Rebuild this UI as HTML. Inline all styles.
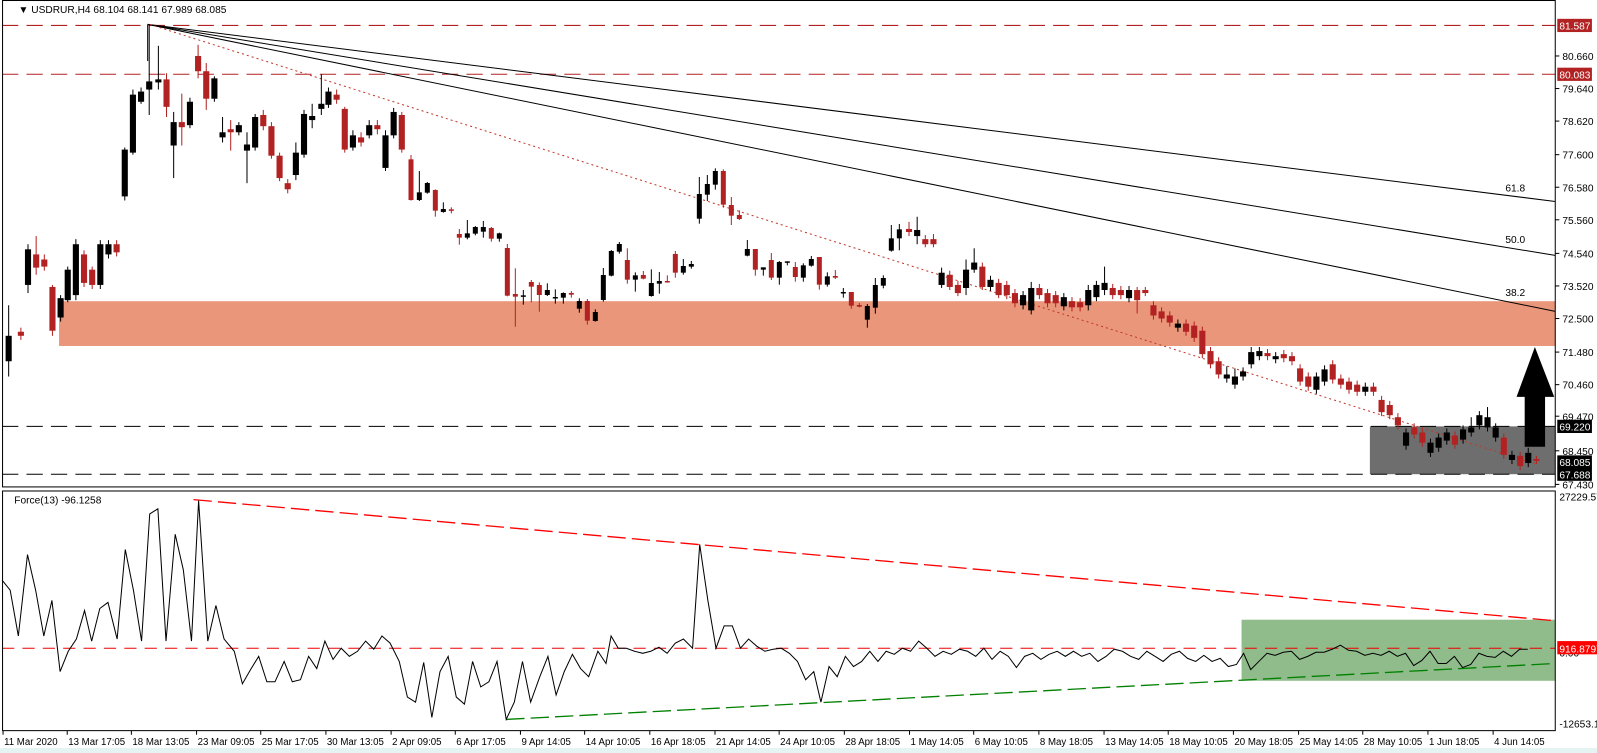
<!DOCTYPE html>
<html><head><meta charset="utf-8"><style>
html,body{margin:0;padding:0;background:#fff;width:1597px;height:753px;overflow:hidden}
svg{display:block}
text{font-family:"Liberation Sans",sans-serif;font-size:10px;fill:#000}
</style></head><body>
<svg id="s" width="1597" height="753" xmlns="http://www.w3.org/2000/svg">
<rect x="0" y="0" width="1597" height="753" fill="#fff"/>
<rect x="0" y="748" width="1597" height="5" fill="#e6f3f3"/>
<g id="p" transform="scale(1.0185,1.0176)">
  <rect x="58" y="296" width="1469" height="44" fill="#e9967a"/>
  <rect x="1345" y="419" width="182" height="47" fill="#6e6e6e"/>
  <rect x="1219" y="609" width="308" height="60" fill="#8fbc8a"/>
  <line x1="2" y1="25" x2="1527" y2="25" stroke="#b22222" stroke-dasharray="16,8"/>
  <line x1="2" y1="73" x2="1527" y2="73" stroke="#b22222" stroke-dasharray="16,8"/>
  <line x1="2" y1="419" x2="1527" y2="419" stroke="#000" stroke-dasharray="16,8"/>
  <line x1="2" y1="466" x2="1527" y2="466" stroke="#000" stroke-dasharray="16,8"/>
  <line x1="145" y1="24" x2="1527" y2="198" stroke="#000"/>
  <line x1="145" y1="24" x2="1527" y2="251" stroke="#000"/>
  <line x1="145" y1="24" x2="1527" y2="306" stroke="#000"/>
  <line x1="145" y1="24" x2="145" y2="60" stroke="#000"/>
  <text x="1478" y="188">61.8</text>
  <text x="1478" y="239">50.0</text>
  <text x="1478" y="291">38.2</text>
  <line x1="147" y1="24" x2="1508" y2="456" stroke="#c0392b" stroke-dasharray="2,3"/>
  <polygon points="1507,341 1489,390 1497,390 1497,439 1517,439 1517,390 1526,390" fill="#000"/>
  <line x1="2" y1="637" x2="1527" y2="637" stroke="#e00" stroke-dasharray="12,8"/>
  <line x1="190" y1="491" x2="1527" y2="610" stroke="#f00" stroke-width="1.3" stroke-dasharray="18,6"/>
  <line x1="497" y1="707" x2="1527" y2="652" stroke="#008000" stroke-width="1.3" stroke-dasharray="18,6"/>
  <polyline id="force" fill="none" stroke="#000" stroke-width="1"/>
  <g id="candP"></g>
  <rect x="2.5" y="0.5" width="1524.5" height="478" fill="none" stroke="#000"/>
  <rect x="2.5" y="482.5" width="1524.5" height="235.5" fill="none" stroke="#000"/>
  <text x="18" y="13">▼  USDRUR,H4  68.104 68.141 67.989 68.085</text>
  <text x="14" y="495">Force(13) -96.1258</text>
  <g id="ax"></g>
  <g id="dates"></g>
</g>
<g id="candT"></g>
</svg>
<script>
var NS="http://www.w3.org/2000/svg";
function el(p,t,a,txt){var e=document.createElementNS(NS,t);for(var k in a)e.setAttribute(k,a[k]);if(txt!==undefined)e.textContent=txt;p.appendChild(e);return e;}
var red="#b22222";
var cp=[[8,330,355,'b',300,370],[20,326,330,'r',322,334],[27,245,280,'b',240,288],[35,250,263,'r',232,270],[43,255,262,'r',250,266],[51,282,325,'r',280,330],[59,293,312,'b',290,316],[66,265,295,'b',262,297],[74,240,290,'b',235,295],[82,250,278,'r',246,282],[90,265,280,'r',262,284],[98,240,280,'b',236,284],[106,240,250,'b',236,254],[114,240,248,'r',236,252],
[122,147,193,'b',145,197],[130,93,150,'b',88,152],[138,90,100,'b',86,102],[146,80,88,'b',24,113],[155,78,81,'b',45,88],[163,78,105,'r',72,115],[170,120,143,'b',110,175],[178,120,125,'r',92,143],[186,100,123,'b',96,126],[194,55,70,'r',44,77],[202,70,97,'r',62,108],[210,77,97,'b',75,100],[218,130,135,'b',115,140],[226,127,130,'r',118,148],[234,123,130,'b',120,133],[242,142,148,'b',130,180],[250,115,145,'b',112,148],[258,113,124,'r',108,128],[266,124,153,'r',120,156],[274,153,175,'r',150,178],[282,180,186,'r',176,190],[290,150,172,'b',140,177],[298,112,152,'b',108,155],[306,114,118,'b',102,126],[315,102,107,'b',73,113],[322,90,103,'b',86,106],[330,93,98,'r',88,102],[338,107,147,'r',105,150],[346,133,145,'b',128,148],[354,135,140,'r',130,144],[362,123,133,'b',118,136],[370,123,127,'r',118,132],[378,133,165,'b',128,168],[386,110,133,'b',106,136],[394,113,147,'r',110,150],
[892,225,228,'r',218,232],[900,226,232,'b',213,240],[908,235,240,'r',231,243],[916,235,240,'r',230,243],[924,268,280,'b',263,283],[932,270,282,'r',266,285],[940,280,288,'r',276,291],[948,265,283,'b',255,290],[956,258,265,'b',244,268],[964,262,282,'r',258,285],[972,275,282,'b',271,286],[980,278,290,'r',274,293],[988,280,290,'r',276,294],[996,288,298,'r',284,302],[1004,290,300,'b',286,304],[1012,283,305,'b',277,309],[1020,283,290,'r',279,294],[1028,288,298,'r',284,302],[1036,290,298,'r',286,302],[1044,292,301,'b',288,305],[1052,296,302,'r',292,306],[1060,297,302,'r',293,306],[1068,285,300,'b',280,305],[1076,280,292,'b',276,296],[1084,278,285,'b',262,290],[1092,283,290,'r',279,294],[1100,285,290,'r',281,294],[1108,285,293,'b',281,297],[1116,285,295,'r',282,308],[1124,285,288,'r',282,291],[1132,300,310,'r',296,314],[1140,306,313,'r',302,317],[1148,310,317,'r',306,321],[1156,318,322,'b',314,326],[1164,318,326,'r',314,330],[1172,320,332,'r',316,336],[1180,325,348,'r',321,352],[1188,345,358,'r',341,362],[1196,355,368,'r',351,372],[1204,368,372,'b',360,376],[1212,370,378,'b',362,382],[1220,365,370,'b',361,374],[1228,346,358,'b',341,362],[1236,345,350,'b',341,354],[1244,347,350,'r',343,354],[1252,350,353,'b',346,357],[1260,348,352,'r',344,356],[1268,350,355,'r',346,359],[1276,362,375,'r',358,379],[1284,370,380,'r',366,384],[1292,370,383,'b',366,387],[1300,363,375,'b',359,379],[1308,358,373,'r',354,377],[1316,372,378,'r',368,382],[1324,375,383,'r',371,387],[1332,378,385,'r',374,389],[1340,380,385,'b',376,389],[1348,380,385,'r',376,389],[1356,393,405,'r',389,409],[1364,398,408,'r',394,412],[1372,410,418,'r',406,422],[1380,425,438,'b',421,442],[1388,420,427,'r',416,431],[1396,425,435,'r',421,439],[1404,435,445,'b',431,449],[1412,430,440,'b',426,444],[1420,425,433,'b',421,437],[1428,428,437,'r',424,441],[1436,422,432,'b',418,436],[1444,420,425,'b',410,429],[1452,408,418,'b',404,422],[1460,410,420,'b',400,424],[1468,420,430,'b',416,434],[1476,430,447,'r',426,451],[1484,447,452,'b',443,456],[1492,448,458,'r',444,462],[1500,445,455,'b',440,459],[1508,451,453,'r',448,456]];
var g=document.getElementById('candP');
cp.forEach(function(c){var col=c[3]=='b'?'#000':red;
el(g,'line',{x1:c[0]+.5,x2:c[0]+.5,y1:c[4],y2:c[5],stroke:col,'stroke-width':1});
el(g,'rect',{x:c[0]-2.5,y:c[1],width:6,height:Math.max(1.5,c[2]-c[1]),fill:col});});
var ct=[[33,28,150,'r',15,152],[58,127,150,'b',63,153],[82,99,128,'b',96,131],[106,120,182,'r',118,200],[130,177,186,'b',157,188],[154,178,182,'r',172,190],[178,252,263,'r',237,284],[202,250,263,'b',210,268],[226,231,251,'b',228,256],[250,231,245,'b',213,263],[274,234,266,'r',231,275],[298,250,266,'b',248,275],[322,294,437,'r',282,439],[346,432,440,'r',355,530],[370,436,440,'b',420,464],[394,396,410,'r',390,457],[418,405,435,'r',397,485],[442,420,435,'b',400,438],[466,441,445,'b',418,461],[490,429,443,'b',427,461],[514,429,434,'r',423,443],[538,453,476,'b',445,488],[562,453,512,'r',447,524],[586,486,513,'b',478,515],[610,375,450,'b',354,455],[634,303,377,'b',300,379],[658,282,305,'b',276,311],[682,330,389,'r',295,401],[706,376,389,'b',367,425],[730,375,386,'r',363,388],[754,399,438,'b',358,440],[778,393,401,'b',366,431],[802,393,396,'r',376,398],[826,312,368,'r',303,383],[850,348,368,'b',327,374],[874,342,350,'b',333,356],[898,132,206,'b',81,221],[922,102,134,'b',75,153],[946,63,104,'b',55,119],[970,63,164,'r',58,173],[994,165,197,'r',141,225],[1018,195,207,'r',181,210],[1042,297,317,'b',270,319],[1066,297,359,'r',297,377],[1090,352,359,'b',352,377],[1114,330,383,'r',309,390],[1138,336,383,'b',333,404],[1162,334,338,'b',334,346],[1186,351,381,'r',336,395],[1210,346,383,'b',340,395],[1234,327,347,'b',318,350],[1258,321,404,'r',321,419],[1282,379,404,'b',367,410],[1306,378,383,'r',360,387],[1330,426,430,'b',414,443],[1354,426,467,'r',426,476],[1378,465,470,'r',459,472],[1402,468,509,'b',462,533],[1426,405,473,'b',384,491],[1450,384,407,'b',376,415],[1474,265,302,'b',225,305],[1498,238,265,'b',222,301]];
var g2=document.getElementById('candT');
ct.forEach(function(c){var col=c[3]=='b'?'#000':red;var x=400+c[0]/3,y1=150+c[1]/3,y2=150+c[2]/3;
el(g2,'line',{x1:x,x2:x,y1:150+c[4]/3,y2:150+c[5]/3,stroke:col,'stroke-width':1});
el(g2,'rect',{x:x-2.5,y:y1,width:5,height:Math.max(1.5,y2-y1),fill:col});});
var fp="2,570 10,580 18,625 27,545 35,580 43,625 51,590 59,660 67,640 75,628 83,600 90,630 98,598 106,592 115,628 123,540 131,580 139,630 147,505 155,500 163,630 172,525 180,560 188,630 195,492 204,630 212,595 220,628 230,640 238,672 246,658 254,645 262,670 270,670 279,650 287,670 295,668 303,645 311,657 319,630 327,648 335,637 343,645 351,640 359,630 367,638 375,625 383,632 392,650 400,685 408,690 416,651 424,705 432,660 440,645 448,685 456,692 464,650 472,675 480,670 488,650 497,707 505,690 513,650 521,690 530,665 538,645 546,683 554,660 562,643 570,657 578,665 587,640 595,652 600,625 607,637 615,637 623,640 631,642 639,640 647,636 655,642 663,632 671,628 680,637 687,535 695,590 703,637 711,615 719,615 727,637 735,628 743,635 751,640 759,638 767,637 775,642 783,650 791,668 799,660 806,690 814,655 822,665 830,645 838,655 846,650 854,640 862,650 870,640 878,643 886,637 894,640 902,630 910,637 918,645 926,640 934,643 942,638 950,640 958,645 966,637 974,648 982,640 990,645 998,656 1006,645 1014,642 1022,648 1030,643 1038,640 1046,645 1054,640 1062,645 1070,642 1078,650 1086,645 1094,638 1102,640 1110,645 1118,648 1126,640 1134,645 1142,650 1150,643 1158,640 1166,647 1174,650 1182,644 1190,650 1198,647 1206,655 1214,653 1221,642 1228,658 1236,650 1244,642 1252,644 1260,641 1268,640 1276,648 1284,645 1292,641 1300,641 1308,638 1316,634 1324,639 1332,640 1340,644 1348,642 1356,644 1364,640 1372,645 1380,642 1388,654 1396,649 1404,640 1412,652 1420,652 1428,645 1436,656 1444,653 1452,642 1460,645 1468,646 1476,640 1484,645 1492,638 1500,638";
document.getElementById('force').setAttribute('points',fp);
var ax=document.getElementById('ax');
[["80.660",55],["79.640",87],["78.620",119],["77.600",152],["76.580",184],["75.560",216],["74.540",249],["73.520",281],["72.500",313],["71.480",346],["70.460",378],["69.470",409],["68.450",443],["67.430",476]].forEach(function(a){
el(ax,'line',{x1:1527,x2:1531,y1:a[1],y2:a[1],stroke:'#000'});el(ax,'text',{x:1534,y:a[1]+4},a[0]);});
function box(t,y,bg){el(ax,'rect',{x:1529,y:y-6.5,width:34,height:13,fill:bg});el(ax,'text',{x:1531,y:y+4,style:'fill:#fff'},t);}
box("81.587",25,"#b22222");box("80.083",73,"#b22222");box("69.220",419,"#000");box("68.085",454,"#000");box("67.688",466,"#000");
el(ax,'text',{x:1531,y:492},"27229.57");
el(ax,'text',{x:1531,y:645},"0.00");
el(ax,'rect',{x:1529,y:630,width:40,height:13,fill:"#f00"});
el(ax,'text',{x:1531,y:641,style:'fill:#fff'},"916.8797");
el(ax,'text',{x:1531,y:715},"-12653.1");
var d=document.getElementById('dates');
var ds=[["11 Mar 2020",3],["13 Mar 17:05",66],["18 Mar 13:05",129],["23 Mar 09:05",193],["25 Mar 17:05",256],["30 Mar 13:05",320],["2 Apr 09:05",384],["6 Apr 17:05",447],["9 Apr 14:05",511],["14 Apr 10:05",574],["16 Apr 18:05",638],["21 Apr 14:05",702],["24 Apr 10:05",765],["28 Apr 18:05",829],["1 May 14:05",893],["6 May 10:05",956],["8 May 18:05",1020],["13 May 14:05",1084],["18 May 10:05",1147],["20 May 18:05",1211],["25 May 14:05",1275],["28 May 10:05",1338],["1 Jun 18:05",1402],["4 Jun 14:05",1466]];
ds.forEach(function(a){el(d,'line',{x1:a[1],x2:a[1],y1:718,y2:722,stroke:'#000'});el(d,'text',{x:a[1]+1,y:732,style:'font-size:9.5px'},a[0]);});
</script>
</body></html>
